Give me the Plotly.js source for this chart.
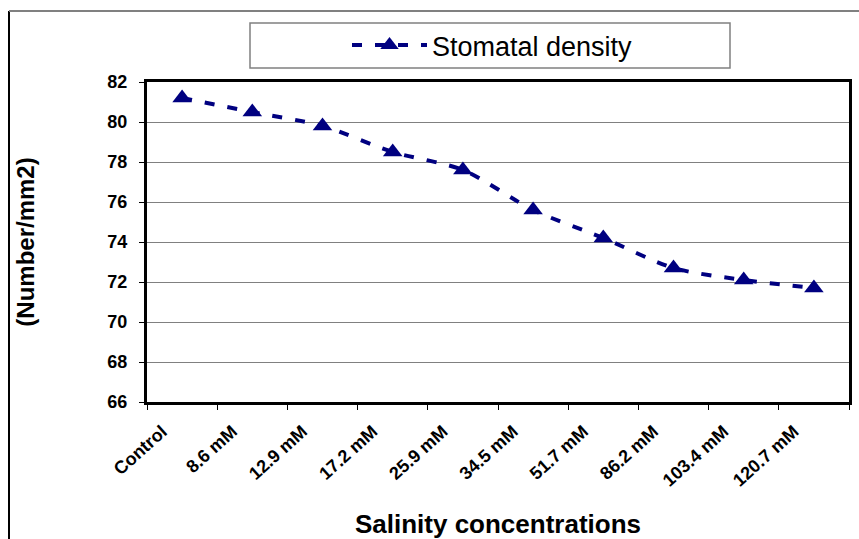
<!DOCTYPE html>
<html>
<head>
<meta charset="utf-8">
<script src="https://cdn.plot.ly/plotly-3.0.1.min.js"></script>
<style>
html, body { margin: 0; padding: 0; background: #ffffff; }
#chart { width: 859px; height: 539px; }
</style>
</head>
<body>
<div id="chart"></div>
<script>
const categories = ["Control", "8.6 mM", "12.9 mM", "17.2 mM", "25.9 mM", "34.5 mM", "51.7 mM", "86.2 mM", "103.4 mM", "120.7 mM"];
const stomatalDensity = [81.2, 80.5, 79.8, 78.5, 77.6, 75.6, 74.2, 72.7, 72.1, 71.7];
const seriesName = "Stomatal density";
const yTickValues = [66, 68, 70, 72, 74, 76, 78, 80, 82];

const FONT = "Arial, 'Liberation Sans', sans-serif";
const NAVY = "#000080";

const trace = {
  type: "scatter",
  mode: "lines+markers",
  x: categories,
  y: stomatalDensity,
  name: seriesName,
  line: { color: NAVY, width: 4, dash: "10px,13px", shape: "spline", smoothing: 0.8 },
  marker: { symbol: "triangle-up", size: 17, color: NAVY },
  showlegend: true
};

// pixel helpers for paper coordinates (plot area 147..849 x 82..402)
const L = 147, R = 849, T = 82, B = 402;
const px = v => (v - L) / (R - L);
const py = v => (B - v) / (B - T);

const layout = {
  width: 859,
  height: 539,
  margin: { l: L, r: 859 - R, t: T, b: 539 - B, pad: 0 },
  paper_bgcolor: "#ffffff",
  plot_bgcolor: "#ffffff",
  font: { family: FONT, color: "#000000" },
  showlegend: true,
  legend: {
    x: px(347), y: py(45.5), xanchor: "left", yanchor: "middle",
    bgcolor: "rgba(0,0,0,0)", borderwidth: 0,
    font: { family: FONT, size: 27, color: "#000000" },
    itemwidth: 75
  },
  xaxis: {
    type: "category",
    range: [-0.5, 9.5],
    tickangle: -42,
    tickfont: { family: FONT, size: 18, color: "#000000", weight: "bold" },
    ticks: "outside", ticklen: 5, tickcolor: "#000000", tickwidth: 1,
    tickson: "boundaries",
    ticklabelshift: -20,
    ticklabelstandoff: 9,
    showline: true, linecolor: "#000000", linewidth: 3, mirror: true,
    showgrid: false, zeroline: false,
    automargin: false,
    title: { text: "Salinity concentrations", font: { family: FONT, size: 26, weight: "bold", color: "#000000" }, standoff: 30 }
  },
  yaxis: {
    range: [66, 82],
    tickvals: yTickValues,
    ticktext: yTickValues.map(String),
    tickfont: { family: FONT, size: 18, color: "#000000", weight: "bold" },
    ticks: "outside", ticklen: 5, tickcolor: "#000000", tickwidth: 1,
    ticklabelstandoff: 8,
    showline: true, linecolor: "#000000", linewidth: 3, mirror: true,
    showgrid: true, gridcolor: "#808080", gridwidth: 1,
    zeroline: false,
    automargin: false,
    title: { text: "(Number/mm2)", font: { family: FONT, size: 24, weight: "bold", color: "#000000" }, standoff: 66 }
  },
  shapes: [
    { type: "rect", xref: "paper", yref: "paper", x0: px(250), x1: px(730), y0: py(68), y1: py(23),
      line: { color: "#808080", width: 1.5 }, fillcolor: "rgba(0,0,0,0)", layer: "below" },
    { type: "line", xref: "paper", yref: "paper", x0: px(9), x1: px(9), y0: py(11), y1: py(560),
      line: { color: "#000000", width: 2 } },
    { type: "line", xref: "paper", yref: "paper", x0: px(9), x1: px(880), y0: py(11), y1: py(11),
      line: { color: "#808080", width: 2 } }
  ]
};

Plotly.newPlot("chart", [trace], layout, { displayModeBar: false, staticPlot: true });
</script>
</body>
</html>
